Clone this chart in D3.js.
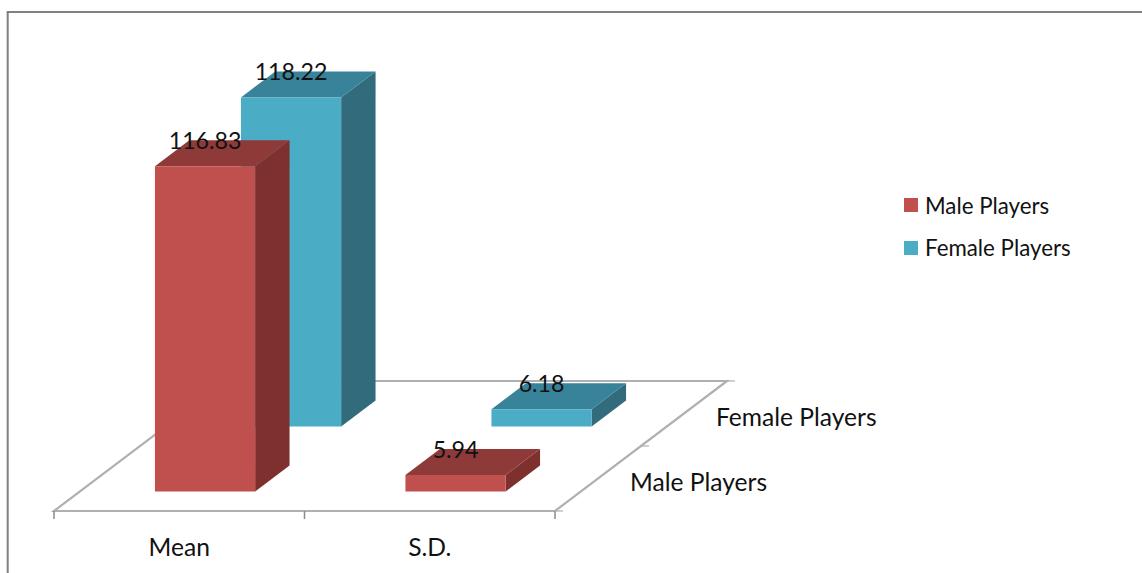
<!DOCTYPE html>
<html>
<head>
<meta charset="utf-8">
<style>
  html, body { margin: 0; padding: 0; background: #fff; }
  svg { display: block; }
  text { font-family: Lato, "Open Sans", sans-serif; fill: #111; }
</style>
<script src="https://cdn.jsdelivr.net/npm/d3@7/dist/d3.min.js"></script>
</head>
<body>
<div id="chart"></div>
<script>
// Chart data
const categories = ["Mean", "S.D."];
const seriesNames = ["Male Players", "Female Players"];
const maleValues = [116.83, 5.94];
const femaleValues = [118.22, 6.18];
const valueLabels = [["116.83", "5.94"], ["118.22", "6.18"]];

const seriesValues = [maleValues, femaleValues];
const frontColors = ["#c0504d", "#4bacc6"];
const sideColors = ["#7d302e", "#316b7c"];
const topColors = ["#8e3a38", "#38839a"];

const width = 1142, height = 573;
const svg = d3.select("#chart").append("svg").attr("width", width).attr("height", height);

// Oblique floor: the front edge runs along x, depth recedes up and to the right
const floor = { x0: 54, x1: 555, y: 511, depth: 130 };
const shear = 1.323;

const x = d3.scaleBand().domain(categories).range([floor.x0, floor.x1]).paddingInner(0);
const z = d3.scaleBand().domain(seriesNames).range([0, floor.depth]).paddingInner(0.6).paddingOuter(0.3);
const h = d3.scaleLinear().domain([0, 140]).range([0, 140 * 2.783]);

const barWidth = x.bandwidth() * 0.4;
const project = (px, depth, up = 0) => [px + depth * shear, floor.y - depth - up];
const poly = pts => pts.map(p => p.join(",")).join(" ");

// Chart frame: only the top and left edges are visible
const frameColor = "#808080";
svg.append("line").attr("x1", 6.7).attr("x2", width).attr("y1", 12).attr("y2", 12)
  .attr("stroke", frameColor).attr("stroke-width", 2);
svg.append("line").attr("x1", 7.7).attr("x2", 7.7).attr("y1", 12).attr("y2", height)
  .attr("stroke", frameColor).attr("stroke-width", 2);

// Floor outline
const floorColor = "#b0b0b0";
svg.append("polygon")
  .attr("points", poly([
    project(floor.x0, 0), project(floor.x1, 0),
    project(floor.x1, floor.depth), project(floor.x0, floor.depth)
  ]))
  .attr("fill", "#fff").attr("stroke", floorColor).attr("stroke-width", 2.2);

// Category axis ticks along the front edge
const xTicks = [floor.x0, x(categories[1]), floor.x1];
svg.append("g").selectAll("line").data(xTicks).join("line")
  .attr("x1", d => d).attr("x2", d => d)
  .attr("y1", floor.y).attr("y2", floor.y + 8)
  .attr("stroke", "#8a8a8a").attr("stroke-width", 1.5);

// Depth axis ticks along the right edge
const zTicks = [0, floor.depth / 2, floor.depth];
svg.append("g").selectAll("line").data(zTicks).join("line")
  .attr("x1", d => project(floor.x1, d)[0]).attr("x2", d => project(floor.x1, d)[0] + 8)
  .attr("y1", d => project(floor.x1, d)[1]).attr("y2", d => project(floor.x1, d)[1])
  .attr("stroke", floorColor).attr("stroke-width", 1.2);

// Bars, back row first so the front row covers it
const order = d3.range(seriesNames.length).reverse();
order.forEach(s => {
  const g = svg.append("g").attr("class", "series");
  const near = z(seriesNames[s]);
  const far = near + z.bandwidth();
  categories.forEach((c, i) => {
    const left = x(c) + (x.bandwidth() - barWidth) / 2;
    const right = left + barWidth;
    const up = h(seriesValues[s][i]);
    g.append("polygon").attr("fill", sideColors[s]).attr("points", poly([
      project(right, near), project(right, far), project(right, far, up), project(right, near, up)
    ]));
    g.append("polygon").attr("fill", topColors[s]).attr("points", poly([
      project(left, near, up), project(right, near, up), project(right, far, up), project(left, far, up)
    ]));
    g.append("polygon").attr("fill", frontColors[s]).attr("points", poly([
      project(left, near), project(right, near), project(right, near, up), project(left, near, up)
    ]));
  });
});

// Value labels sit over the top face of each bar
const valueFont = 23.2, axisFont = 24.6, legendFont = 22.3;
seriesNames.forEach((name, s) => {
  categories.forEach((c, i) => {
    const near = z(name);
    const cx = x(c) + x.bandwidth() / 2;
    const p = project(cx, near, h(seriesValues[s][i]));
    svg.append("text").attr("x", p[0]).attr("y", p[1] - 17)
      .attr("text-anchor", "middle").attr("font-size", valueFont)
      .text(valueLabels[s][i]);
  });
});

// Category labels
svg.append("g").selectAll("text").data(categories).join("text")
  .attr("x", d => x(d) + x.bandwidth() / 2).attr("y", 556)
  .attr("text-anchor", "middle").attr("font-size", axisFont)
  .text(d => d);

// Depth axis labels
const depthLabelX = [630, 716];
const depthLabelY = [491, 426];
svg.append("g").selectAll("text").data(seriesNames).join("text")
  .attr("x", (d, i) => depthLabelX[i]).attr("y", (d, i) => depthLabelY[i])
  .attr("font-size", axisFont).text(d => d);

// Legend
const legend = svg.append("g").selectAll("g").data(seriesNames).join("g")
  .attr("transform", (d, i) => `translate(904,${198 + i * 43})`);
legend.append("rect").attr("width", 14).attr("height", 14)
  .attr("fill", (d, i) => frontColors[i]);
legend.append("text").attr("x", 21).attr("y", (d, i) => 16 - i)
  .attr("font-size", legendFont).text(d => d);
</script>
</body>
</html>
